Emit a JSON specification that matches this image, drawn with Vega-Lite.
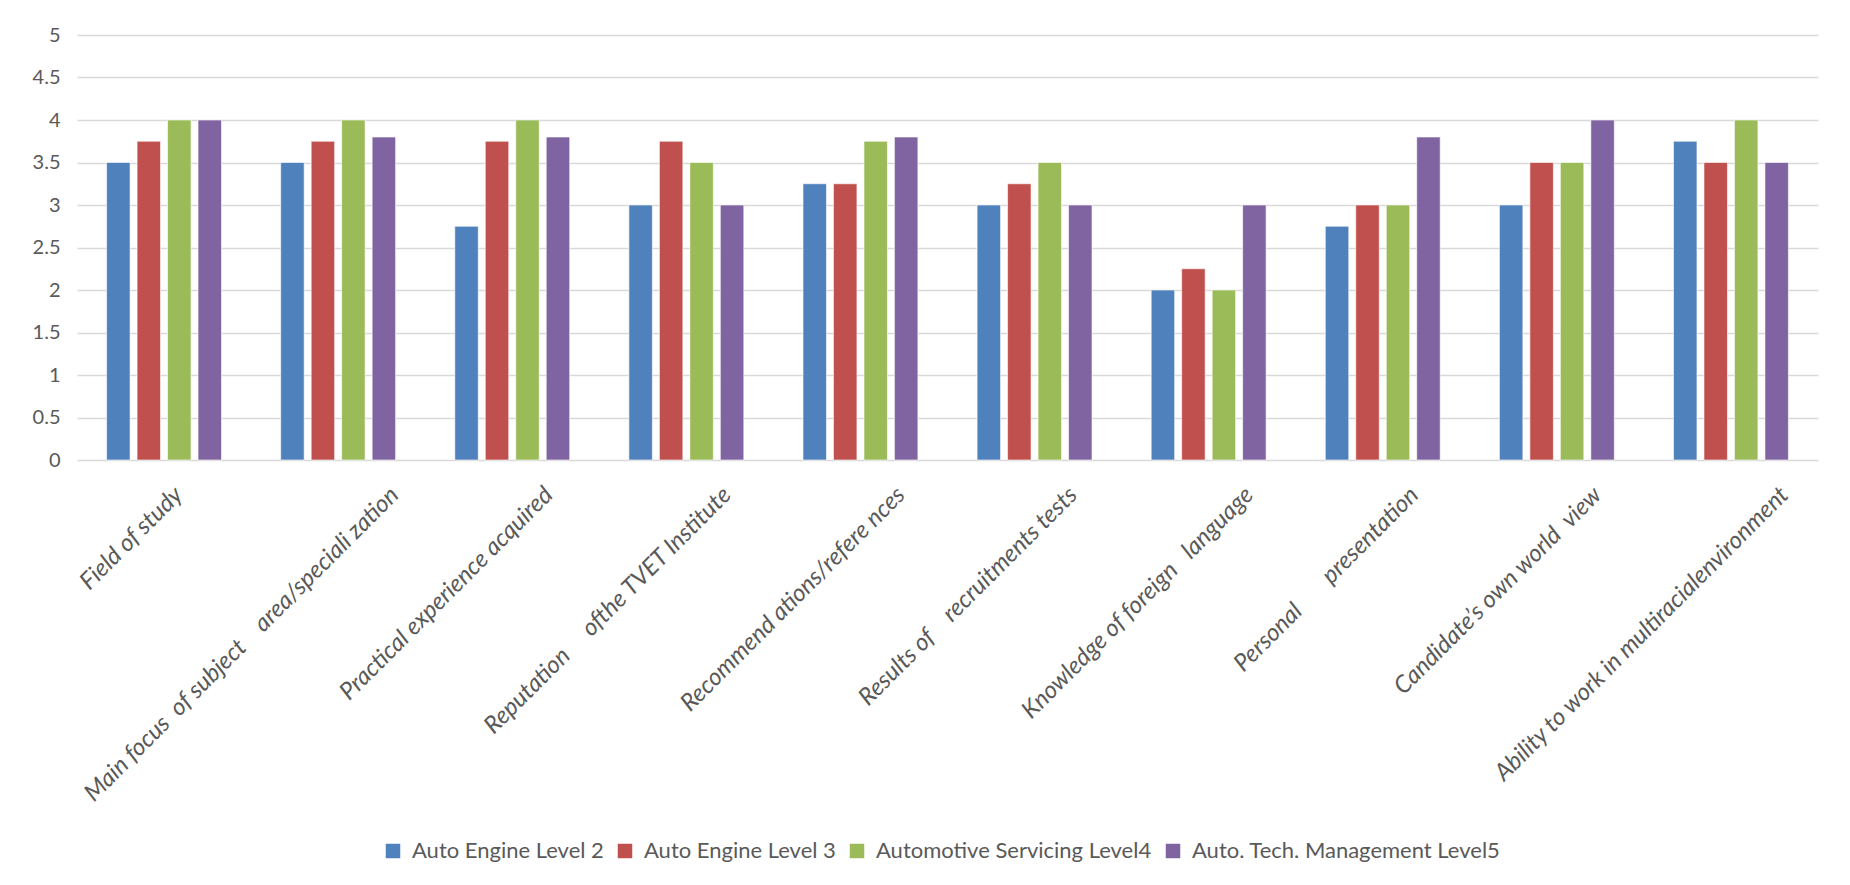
{
  "$schema": "https://vega.github.io/schema/vega-lite/v6.json",
  "width": 1741,
  "height": 425,
  "autosize": {"type": "none"},
  "padding": {"left": 77, "top": 35, "right": 32, "bottom": 425},
  "background": "white",
  "datasets": {
    "ratings": [
      {"factor": "Field of study", "program": "Auto Engine Level 2", "score": 3.5},
      {"factor": "Field of study", "program": "Auto Engine Level 3", "score": 3.75},
      {"factor": "Field of study", "program": "Automotive Servicing Level4", "score": 4},
      {"factor": "Field of study", "program": "Auto. Tech. Management Level5", "score": 4},
      {"factor": "Main focus\u00a0\u00a0of subject\u00a0\u00a0\u00a0\u00a0area/speciali zation", "program": "Auto Engine Level 2", "score": 3.5},
      {"factor": "Main focus\u00a0\u00a0of subject\u00a0\u00a0\u00a0\u00a0area/speciali zation", "program": "Auto Engine Level 3", "score": 3.75},
      {"factor": "Main focus\u00a0\u00a0of subject\u00a0\u00a0\u00a0\u00a0area/speciali zation", "program": "Automotive Servicing Level4", "score": 4},
      {"factor": "Main focus\u00a0\u00a0of subject\u00a0\u00a0\u00a0\u00a0area/speciali zation", "program": "Auto. Tech. Management Level5", "score": 3.8},
      {"factor": "Practical experience acquired", "program": "Auto Engine Level 2", "score": 2.75},
      {"factor": "Practical experience acquired", "program": "Auto Engine Level 3", "score": 3.75},
      {"factor": "Practical experience acquired", "program": "Automotive Servicing Level4", "score": 4},
      {"factor": "Practical experience acquired", "program": "Auto. Tech. Management Level5", "score": 3.8},
      {"factor": "Reputation\u00a0\u00a0\u00a0\u00a0\u00a0ofthe TVET Institute", "program": "Auto Engine Level 2", "score": 3},
      {"factor": "Reputation\u00a0\u00a0\u00a0\u00a0\u00a0ofthe TVET Institute", "program": "Auto Engine Level 3", "score": 3.75},
      {"factor": "Reputation\u00a0\u00a0\u00a0\u00a0\u00a0ofthe TVET Institute", "program": "Automotive Servicing Level4", "score": 3.5},
      {"factor": "Reputation\u00a0\u00a0\u00a0\u00a0\u00a0ofthe TVET Institute", "program": "Auto. Tech. Management Level5", "score": 3},
      {"factor": "Recommend ations/refere nces", "program": "Auto Engine Level 2", "score": 3.25},
      {"factor": "Recommend ations/refere nces", "program": "Auto Engine Level 3", "score": 3.25},
      {"factor": "Recommend ations/refere nces", "program": "Automotive Servicing Level4", "score": 3.75},
      {"factor": "Recommend ations/refere nces", "program": "Auto. Tech. Management Level5", "score": 3.8},
      {"factor": "Results of\u00a0\u00a0\u00a0\u00a0recruitments tests", "program": "Auto Engine Level 2", "score": 3},
      {"factor": "Results of\u00a0\u00a0\u00a0\u00a0recruitments tests", "program": "Auto Engine Level 3", "score": 3.25},
      {"factor": "Results of\u00a0\u00a0\u00a0\u00a0recruitments tests", "program": "Automotive Servicing Level4", "score": 3.5},
      {"factor": "Results of\u00a0\u00a0\u00a0\u00a0recruitments tests", "program": "Auto. Tech. Management Level5", "score": 3},
      {"factor": "Knowledge of foreign\u00a0\u00a0\u00a0language", "program": "Auto Engine Level 2", "score": 2},
      {"factor": "Knowledge of foreign\u00a0\u00a0\u00a0language", "program": "Auto Engine Level 3", "score": 2.25},
      {"factor": "Knowledge of foreign\u00a0\u00a0\u00a0language", "program": "Automotive Servicing Level4", "score": 2},
      {"factor": "Knowledge of foreign\u00a0\u00a0\u00a0language", "program": "Auto. Tech. Management Level5", "score": 3},
      {"factor": "Personal\u00a0\u00a0\u00a0\u00a0\u00a0\u00a0\u00a0presentation", "program": "Auto Engine Level 2", "score": 2.75},
      {"factor": "Personal\u00a0\u00a0\u00a0\u00a0\u00a0\u00a0\u00a0presentation", "program": "Auto Engine Level 3", "score": 3},
      {"factor": "Personal\u00a0\u00a0\u00a0\u00a0\u00a0\u00a0\u00a0presentation", "program": "Automotive Servicing Level4", "score": 3},
      {"factor": "Personal\u00a0\u00a0\u00a0\u00a0\u00a0\u00a0\u00a0presentation", "program": "Auto. Tech. Management Level5", "score": 3.8},
      {"factor": "Candidate’s own world\u00a0\u00a0view", "program": "Auto Engine Level 2", "score": 3},
      {"factor": "Candidate’s own world\u00a0\u00a0view", "program": "Auto Engine Level 3", "score": 3.5},
      {"factor": "Candidate’s own world\u00a0\u00a0view", "program": "Automotive Servicing Level4", "score": 3.5},
      {"factor": "Candidate’s own world\u00a0\u00a0view", "program": "Auto. Tech. Management Level5", "score": 4},
      {"factor": "Ability to work in multiracialenvironment", "program": "Auto Engine Level 2", "score": 3.75},
      {"factor": "Ability to work in multiracialenvironment", "program": "Auto Engine Level 3", "score": 3.5},
      {"factor": "Ability to work in multiracialenvironment", "program": "Automotive Servicing Level4", "score": 4},
      {"factor": "Ability to work in multiracialenvironment", "program": "Auto. Tech. Management Level5", "score": 3.5}
    ]
  },
  "data": {"name": "ratings"},
  "mark": {"type": "bar", "stroke": "white", "strokeWidth": 0.6},
  "encoding": {
    "x": {
      "field": "factor",
      "type": "nominal",
      "sort": null,
      "title": null,
      "scale": {"paddingInner": 0.34, "paddingOuter": 0.17},
      "axis": {
        "labelAngle": -45,
        "labelAlign": "right",
        "labelBaseline": "middle",
        "labelFont": "Lato",
        "labelFontStyle": "italic",
        "labelFontSize": 24,
        "labelColor": "#595959",
        "labelPadding": 31,
        "labelOffset": {
          "condition": [
            {"test": "datum.value === 'Field of study'", "value": 15},
            {"test": "datum.value === 'Main focus\u00a0\u00a0of subject\u00a0\u00a0\u00a0\u00a0area/speciali zation'", "value": 57},
            {"test": "datum.value === 'Ability to work in multiracialenvironment'", "value": 54},
            {"test": "datum.value === 'Personal\u00a0\u00a0\u00a0\u00a0\u00a0\u00a0\u00a0presentation'", "value": 32},
            {"test": "datum.value === 'Practical experience acquired'", "value": 37},
            {"test": "datum.value === 'Results of\u00a0\u00a0\u00a0\u00a0recruitments tests'", "value": 39}
          ],
          "value": 41
        },
        "labelLimit": 800,
        "labelOverlap": false,
        "ticks": false,
        "domain": false,
        "grid": false
      }
    },
    "xOffset": {
      "field": "program",
      "type": "nominal",
      "sort": ["Auto Engine Level 2", "Auto Engine Level 3", "Automotive Servicing Level4", "Auto. Tech. Management Level5"],
      "scale": {"paddingInner": 0.23, "paddingOuter": 0}
    },
    "y": {
      "field": "score",
      "type": "quantitative",
      "title": null,
      "scale": {"domain": [0, 5], "nice": false},
      "axis": {
        "values": [0, 0.5, 1, 1.5, 2, 2.5, 3, 3.5, 4, 4.5, 5],
        "format": "~g",
        "labelFont": "Lato",
        "labelFontSize": 20,
        "labelColor": "#595959",
        "labelPadding": 17,
        "ticks": false,
        "domain": false,
        "gridColor": "#D9D9D9",
        "gridWidth": 1.3
      }
    },
    "color": {
      "field": "program",
      "type": "nominal",
      "title": null,
      "scale": {
        "domain": ["Auto Engine Level 2", "Auto Engine Level 3", "Automotive Servicing Level4", "Auto. Tech. Management Level5"],
        "range": ["#4F81BD", "#C0504D", "#9BBB59", "#8064A2"]
      },
      "legend": {
        "orient": "none",
        "direction": "horizontal",
        "columns": 4,
        "legendX": 305,
        "legendY": 805,
        "symbolType": "square",
        "symbolSize": 210,
        "symbolStrokeWidth": 0,
        "labelFont": "Lato",
        "labelFontSize": 22,
        "labelColor": "#595959",
        "labelOffset": 8,
        "columnPadding": 10,
        "labelLimit": 500
      }
    }
  },
  "config": {
    "view": {"stroke": null}
  }
}
